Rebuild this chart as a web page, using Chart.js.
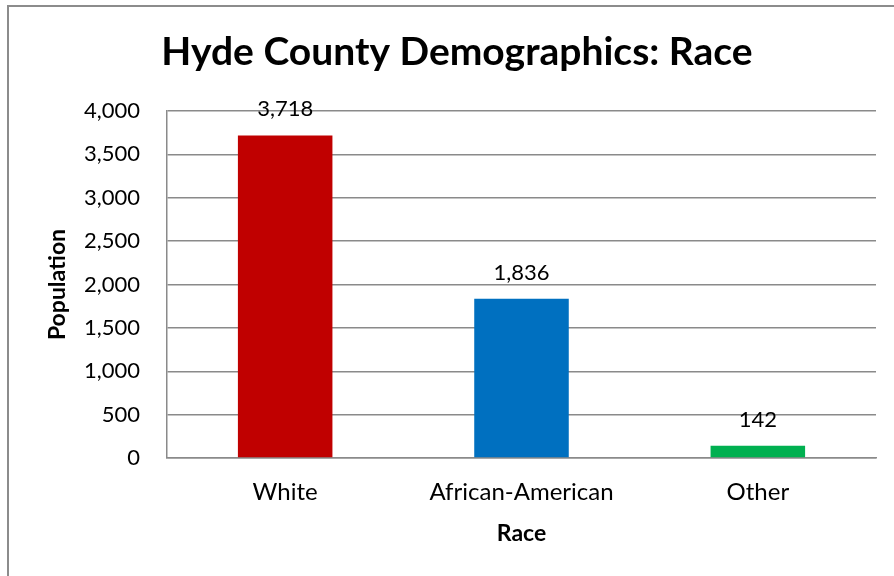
<!DOCTYPE html>
<html>
<head>
<meta charset="utf-8">
<script src="https://cdn.jsdelivr.net/npm/chart.js@4.4.1/dist/chart.umd.min.js"></script>
<style>
  html, body { margin: 0; padding: 0; background: #ffffff; }
  #wrap { width: 894px; height: 576px; position: relative; }
</style>
</head>
<body>
<div id="wrap"><canvas id="chart" width="894" height="576"></canvas></div>
<script>
// Hyde County population by race
const categories = ['White', 'African-American', 'Other'];
const population = [3718, 1836, 142];
const barColors = ['#C00000', '#0070C0', '#00B050'];
const yTicks = [0, 500, 1000, 1500, 2000, 2500, 3000, 3500, 4000];

const FONT = 'Lato, "Open Sans", sans-serif';
const GRID = '#8a8a8a';

// Outer frame around the chart object
const framePlugin = {
  id: 'frame',
  beforeDraw(chart) {
    const ctx = chart.ctx;
    ctx.save();
    ctx.fillStyle = '#ffffff';
    ctx.fillRect(0, 0, chart.width, chart.height);
    ctx.strokeStyle = '#8c8c8c';
    ctx.lineWidth = 2;
    ctx.strokeRect(8, 6, chart.width + 20, chart.height + 20);
    ctx.restore();
  }
};

// Value labels above each bar
const valueLabels = {
  id: 'valueLabels',
  afterDatasetsDraw(chart) {
    const ctx = chart.ctx;
    const meta = chart.getDatasetMeta(0);
    ctx.save();
    ctx.font = '22px ' + FONT;
    ctx.fillStyle = '#000000';
    ctx.textAlign = 'center';
    ctx.textBaseline = 'alphabetic';
    meta.data.forEach((bar, i) => {
      const v = chart.data.datasets[0].data[i];
      ctx.fillText(v.toLocaleString('en-US'), bar.x, bar.y - 19);
    });
    ctx.restore();
  }
};

new Chart(document.getElementById('chart'), {
  type: 'bar',
  data: {
    labels: categories,
    datasets: [{
      data: population,
      backgroundColor: barColors,
      borderWidth: 0,
      categoryPercentage: 1.0,
      barPercentage: 0.4
    }]
  },
  options: {
    responsive: false,
    animation: false,
    devicePixelRatio: 1,
    layout: { padding: { left: 38, right: 18, top: 0, bottom: 0 } },
    plugins: {
      legend: { display: false },
      tooltip: { enabled: false },
      title: {
        display: true,
        text: 'Hyde County Demographics: Race',
        color: '#000000',
        font: { family: FONT, size: 39, weight: 'bold', lineHeight: 1.2 },
        padding: { top: 29.5, bottom: 34.7 }
      }
    },
    scales: {
      x: {
        grid: { display: false, drawTicks: false },
        border: { display: true, color: GRID, width: 1.5 },
        ticks: {
          color: '#000000',
          font: { family: FONT, size: 24 },
          padding: 20,
          maxRotation: 0
        },
        title: {
          display: true,
          text: 'Race',
          color: '#000000',
          font: { family: FONT, size: 23, weight: 'bold' },
          padding: { top: 0, bottom: 29 }
        },
        afterFit(scale) { scale.height = 118; }
      },
      y: {
        min: 0,
        max: 4000,
        afterBuildTicks(scale) { scale.ticks = yTicks.map(v => ({ value: v })); },
        grid: { color: GRID, lineWidth: 1.5, drawTicks: false },
        border: { display: true, color: GRID, width: 1.5 },
        ticks: {
          color: '#000000',
          font: { family: FONT, size: 22 },
          padding: 27,
          callback: v => v.toLocaleString('en-US')
        },
        title: {
          display: true,
          text: 'Population',
          color: '#000000',
          font: { family: FONT, size: 23, weight: 'bold' },
          padding: { top: 6, bottom: 0 }
        },
        afterFit(scale) { scale.width = 129; }
      }
    }
  },
  plugins: [framePlugin, valueLabels]
});
</script>
</body>
</html>
